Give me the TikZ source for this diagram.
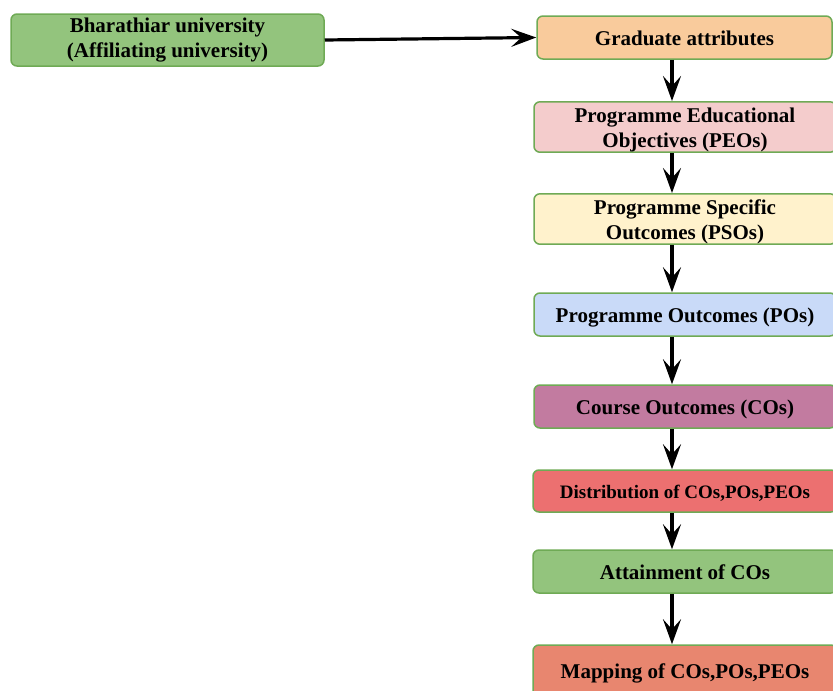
\documentclass[tikz,border=0pt]{standalone}
\usepackage{fontspec}
\setmainfont{Liberation Serif}
\usetikzlibrary{arrows.meta}

\definecolor{edgegreen}{HTML}{6FAA55}
\definecolor{uniGreen}{HTML}{93C47D}
\definecolor{gaOrange}{HTML}{F9CB9C}
\definecolor{peoPink}{HTML}{F4CCCC}
\definecolor{psoYellow}{HTML}{FFF2CC}
\definecolor{poBlue}{HTML}{C9DAF8}
\definecolor{coPurple}{HTML}{C27BA0}
\definecolor{distRed}{HTML}{EC7070}
\definecolor{mapSalmon}{HTML}{E8866F}

\begin{document}
\begin{tikzpicture}[x=1pt, y=-1pt,
	stage/.style={rectangle, rounded corners=6pt, draw=edgegreen, line width=1.5pt, text=black, align=center, inner sep=0pt, font=\fontsize{21}{25}\selectfont\bfseries},
	lowtext/.style={execute at begin node={\rule{0pt}{20.2pt}}, execute at end node={\rule[-4.6pt]{0pt}{4.6pt}}},
	flow/.style={-{Stealth[length=25pt, width=18pt, inset=10pt]}, line width=3.2pt},
	]
	\useasboundingbox (0,0) rectangle (833,691);
	\clip (0,0) rectangle (833,691);
	%Nodes
	\node[stage, fill=uniGreen, minimum width=313pt, minimum height=52pt] (uni) at (167.5,40) {Bharathiar university\\(Affiliating university)};
	%
	\node[stage, lowtext, fill=gaOrange, minimum width=295pt, minimum height=43pt] (ga) at (684.5,37.5) {Graduate attributes};
	%
	\node[stage, fill=peoPink, minimum width=302pt, minimum height=50pt] (peo) at (685,127) {\rule{0pt}{21pt}Programme Educational\\Objectives (PEOs)};
	%
	\node[stage, fill=psoYellow, minimum width=302pt, minimum height=50pt] (pso) at (685,219) {\rule{0pt}{21pt}Programme Specific\\Outcomes (PSOs)};
	%
	\node[stage, lowtext, fill=poBlue, minimum width=302pt, minimum height=43pt] (po) at (685,314.5) {Programme Outcomes (POs)};
	%
	\node[stage, lowtext, fill=coPurple, minimum width=302pt, minimum height=43pt] (co) at (685,406.5) {Course Outcomes (COs)};
	%
	\node[stage, lowtext, fill=distRed, minimum width=304pt, minimum height=42pt, font=\fontsize{19}{23}\selectfont\bfseries] (dist) at (685,491) {Distribution of COs,POs,PEOs};
	%
	\node[stage, lowtext, fill=uniGreen, minimum width=304pt, minimum height=43pt] (att) at (685,571.5) {Attainment of COs};
	%
	\node[stage, lowtext, fill=mapSalmon, minimum width=304pt, minimum height=52pt] (map) at (685,671) {Mapping of COs,POs,PEOs};
	%
	\coordinate (spine) at (672,0);
	
	\draw[flow] (uni.east) -- (ga.west);
	%
	\draw[flow] (ga.south -| spine) -- (peo.north -| spine);
	\draw[flow] (peo.south -| spine) -- (pso.north -| spine);
	\draw[flow] (pso.south -| spine) -- (po.north -| spine);
	\draw[flow] (po.south -| spine) -- (co.north -| spine);
	\draw[flow] (co.south -| spine) -- (dist.north -| spine);
	\draw[flow] (dist.south -| spine) -- (att.north -| spine);
	\draw[flow] (att.south -| spine) -- (map.north -| spine);
\end{tikzpicture}
\end{document}
